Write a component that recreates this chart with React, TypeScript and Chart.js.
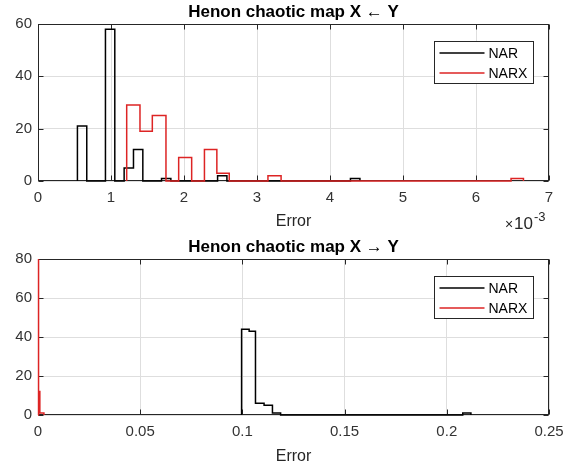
import React, { useEffect, useRef } from 'react';
import { Chart, registerables } from 'chart.js';

Chart.register(...registerables);

const FONT = '"Liberation Sans", Arial, Helvetica, sans-serif';
const RED = '#dd2424';
const BLACK = '#000000';

// ---- Top panel: Henon chaotic map X <- Y (error values, real units) ----
const TOP_TITLE = 'Henon chaotic map X \u2190 Y';
const TOP_X_TICKS = [0, 0.001, 0.002, 0.003, 0.004, 0.005, 0.006, 0.007];
const TOP_X_LABELS = ['0', '1', '2', '3', '4', '5', '6', '7'];
const TOP_Y_TICKS = [0, 20, 40, 60];

const TOP_NAR_LEFT = [0.00054, 0.000924, 0.00118, 0.001308, 0.001692, 0.00246, 0.00428];
const TOP_NAR_RIGHT = [0.000668, 0.001052, 0.001308, 0.001436, 0.00182, 0.002588, 0.00441];
const TOP_NAR_COUNT = [21, 58, 5, 12, 1, 2, 1];

const TOP_NARX_LEFT = [0.001215, 0.001397, 0.001566, 0.001927, 0.00228, 0.00245, 0.00315, 0.00648];
const TOP_NARX_RIGHT = [0.001397, 0.001566, 0.001753, 0.002105, 0.00245, 0.00262, 0.00333, 0.00665];
const TOP_NARX_COUNT = [29, 19, 25, 9, 12, 3, 2, 1];

// ---- Bottom panel: Henon chaotic map X -> Y ----
const BOT_TITLE = 'Henon chaotic map X \u2192 Y';
const BOT_X_TICKS = [0, 0.05, 0.1, 0.15, 0.2, 0.25];
const BOT_X_LABELS = ['0', '0.05', '0.1', '0.15', '0.2', '0.25'];
const BOT_Y_TICKS = [0, 20, 40, 60, 80];

const BOT_NAR_LEFT = [0.0996, 0.1033, 0.1064, 0.1106, 0.1147, 0.2078];
const BOT_NAR_RIGHT = [0.1033, 0.1064, 0.1106, 0.1147, 0.1187, 0.2118];
const BOT_NAR_COUNT = [44, 43, 6, 5, 1, 1];

const BOT_NARX_LEFT = [0, 0.0004, 0.0009];
const BOT_NARX_RIGHT = [0.0004, 0.0009, 0.0029];
const BOT_NARX_COUNT = [80, 12, 1];

const LEGEND_LABELS = ['NAR', 'NARX'];
const LEGEND_COLORS = [BLACK, RED];

// stairs outline of histogram bins (drops to zero only between non-adjacent bins)
function stairs(left: number[], right: number[], count: number[]) {
  const pts: { x: number; y: number }[] = [];
  for (let i = 0; i < left.length; i++) {
    const joinedPrev = i > 0 && Math.abs(left[i] - right[i - 1]) < 1e-12;
    if (!joinedPrev) pts.push({ x: left[i], y: 0 });
    pts.push({ x: left[i], y: count[i] });
    pts.push({ x: right[i], y: count[i] });
    const joinedNext = i < left.length - 1 && Math.abs(left[i + 1] - right[i]) < 1e-12;
    if (!joinedNext) pts.push({ x: right[i], y: 0 });
  }
  return pts;
}

function makePlugins(title: string, showExp: boolean) {
  return [
    {
      id: 'mlBox',
      beforeDatasetsDraw(chart: any) {
        const { ctx, chartArea: a, scales } = chart;
        const L = Math.round(a.left) + 0.5;
        const R = Math.round(a.right) - 0.5;
        const T = Math.round(a.top) + 0.5;
        const B = Math.round(a.bottom) - 0.5;
        const tl = 5;
        ctx.save();
        ctx.strokeStyle = '#262626';
        ctx.lineWidth = 1;
        ctx.beginPath();
        for (const t of scales.x.ticks) {
          const p = Math.round(scales.x.getPixelForValue(t.value)) + 0.5;
          ctx.moveTo(p, B);
          ctx.lineTo(p, B - tl);
          ctx.moveTo(p, T);
          ctx.lineTo(p, T + tl);
        }
        for (const t of scales.y.ticks) {
          const p = Math.round(scales.y.getPixelForValue(t.value)) + 0.5;
          ctx.moveTo(L, p);
          ctx.lineTo(L + tl, p);
          ctx.moveTo(R, p);
          ctx.lineTo(R - tl, p);
        }
        ctx.stroke();
        ctx.strokeRect(L, T, R - L, B - T);
        ctx.restore();
      },
    },
    {
      id: 'mlText',
      afterDraw(chart: any) {
        const { ctx, chartArea: a } = chart;
        ctx.save();
        // title
        ctx.fillStyle = '#000';
        ctx.font = `bold 17px ${FONT}`;
        ctx.textAlign = 'center';
        ctx.textBaseline = 'alphabetic';
        ctx.fillText(title, (a.left + a.right) / 2, a.top - 7.5);
        // legend
        const bw = 99;
        const bh = 42;
        const bx = Math.round(a.right - 16 - bw) + 0.5;
        const by = Math.round(a.top + 17) + 0.5;
        ctx.fillStyle = '#fff';
        ctx.fillRect(bx, by, bw, bh);
        ctx.strokeStyle = '#262626';
        ctx.lineWidth = 1;
        ctx.strokeRect(bx, by, bw, bh);
        ctx.font = `14px ${FONT}`;
        ctx.textAlign = 'left';
        ctx.textBaseline = 'middle';
        for (let i = 0; i < LEGEND_LABELS.length; i++) {
          const yy = by + 11.5 + i * 20;
          ctx.strokeStyle = LEGEND_COLORS[i];
          ctx.lineWidth = 1.5;
          ctx.beginPath();
          ctx.moveTo(bx + 5, yy);
          ctx.lineTo(bx + 50, yy);
          ctx.stroke();
          ctx.fillStyle = '#000';
          ctx.fillText(LEGEND_LABELS[i], bx + 54, yy + 1);
        }
        // exponent label
        if (showExp) {
          ctx.fillStyle = '#262626';
          ctx.textBaseline = 'alphabetic';
          ctx.textAlign = 'left';
          ctx.font = `14px ${FONT}`;
          ctx.fillText('\u00d7', a.right - 44, a.bottom + 48);
          ctx.font = `17px ${FONT}`;
          ctx.fillText('10', a.right - 35, a.bottom + 48);
          ctx.font = `13px ${FONT}`;
          ctx.fillText('-3', a.right - 15, a.bottom + 40);
        }
        ctx.restore();
      },
    },
  ];
}

function makeConfig(opts: {
  title: string;
  showExp: boolean;
  xTicks: number[];
  xLabels: string[];
  yTicks: number[];
  narPts: { x: number; y: number }[];
  narxPts: { x: number; y: number }[];
  topPad: number;
  xAxisH: number;
  titleLH: number;
}) {
  const { xTicks, xLabels, yTicks } = opts;
  return {
    type: 'line' as const,
    data: {
      datasets: [
        {
          label: 'NAR',
          data: opts.narPts,
          borderColor: BLACK,
          borderWidth: 1.5,
          pointRadius: 0,
          tension: 0,
          fill: false,
          order: 1,
          clip: 3,
          borderJoinStyle: 'miter' as const,
        },
        {
          label: 'NARX',
          data: opts.narxPts,
          borderColor: RED,
          borderWidth: 1.5,
          pointRadius: 0,
          tension: 0,
          fill: false,
          order: 0,
          clip: 3,
          borderJoinStyle: 'miter' as const,
        },
      ],
    },
    options: {
      animation: false as const,
      responsive: false,
      maintainAspectRatio: false,
      events: [],
      layout: { padding: { left: 0, right: 28, top: opts.topPad, bottom: 0 } },
      plugins: {
        legend: { display: false },
        tooltip: { enabled: false },
        title: { display: false },
      },
      scales: {
        x: {
          type: 'linear' as const,
          min: xTicks[0],
          max: xTicks[xTicks.length - 1],
          afterBuildTicks(scale: any) {
            scale.ticks = xTicks.map((v) => ({ value: v }));
          },
          afterFit(scale: any) {
            scale.height = opts.xAxisH;
          },
          ticks: {
            autoSkip: false,
            maxRotation: 0,
            padding: 8,
            color: '#333333',
            font: { family: FONT, size: 15 },
            callback: (_v: any, i: number) => xLabels[i],
          },
          grid: { color: '#dedede', drawTicks: false, lineWidth: 1 },
          border: { display: false },
          title: {
            display: true,
            text: 'Error',
            color: '#262626',
            font: { family: FONT, size: 16, lineHeight: opts.titleLH },
            padding: { top: 0, bottom: 0 },
          },
        },
        y: {
          type: 'linear' as const,
          min: yTicks[0],
          max: yTicks[yTicks.length - 1],
          afterBuildTicks(scale: any) {
            scale.ticks = yTicks.map((v) => ({ value: v }));
          },
          afterFit(scale: any) {
            scale.width = 38;
          },
          ticks: {
            padding: 6,
            color: '#333333',
            font: { family: FONT, size: 15 },
          },
          grid: { color: '#dedede', drawTicks: false, lineWidth: 1 },
          border: { display: false },
        },
      },
    },
    plugins: makePlugins(opts.title, opts.showExp),
  };
}

export default function App() {
  const topRef = useRef<HTMLCanvasElement | null>(null);
  const botRef = useRef<HTMLCanvasElement | null>(null);

  useEffect(() => {
    if (!topRef.current || !botRef.current) return;
    const c1 = new Chart(
      topRef.current,
      makeConfig({
        title: TOP_TITLE,
        showExp: true,
        xTicks: TOP_X_TICKS,
        xLabels: TOP_X_LABELS,
        yTicks: TOP_Y_TICKS,
        narPts: stairs(TOP_NAR_LEFT, TOP_NAR_RIGHT, TOP_NAR_COUNT),
        narxPts: stairs(TOP_NARX_LEFT, TOP_NARX_RIGHT, TOP_NARX_COUNT),
        topPad: 24,
        xAxisH: 51,
        titleLH: 1.25,
      }) as any
    );
    const c2 = new Chart(
      botRef.current,
      makeConfig({
        title: BOT_TITLE,
        showExp: false,
        xTicks: BOT_X_TICKS,
        xLabels: BOT_X_LABELS,
        yTicks: BOT_Y_TICKS,
        narPts: stairs(BOT_NAR_LEFT, BOT_NAR_RIGHT, BOT_NAR_COUNT),
        narxPts: stairs(BOT_NARX_LEFT, BOT_NARX_RIGHT, BOT_NARX_COUNT),
        topPad: 27,
        xAxisH: 50,
        titleLH: 1.1,
      }) as any
    );
    return () => {
      c1.destroy();
      c2.destroy();
    };
  }, []);

  return (
    <div
      style={{
        position: 'absolute',
        left: 0,
        top: 0,
        width: 577,
        height: 465,
        background: '#fff',
      }}
    >
      <canvas
        ref={topRef}
        width={577}
        height={232}
        style={{ position: 'absolute', left: 0, top: 0, width: 577, height: 232 }}
      />
      <canvas
        ref={botRef}
        width={577}
        height={233}
        style={{ position: 'absolute', left: 0, top: 232, width: 577, height: 233 }}
      />
    </div>
  );
}
